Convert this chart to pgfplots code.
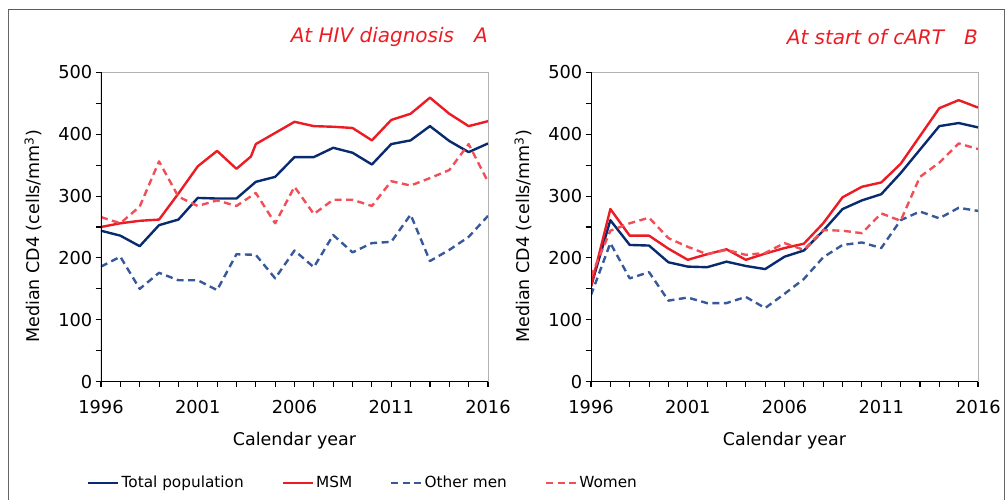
\documentclass[border=0pt]{standalone}
\usepackage{fontspec}
\setmainfont{DejaVu Sans}
\usepackage{pgfplots}
\pgfplotsset{compat=1.18}

\definecolor{totc}{RGB}{8,42,110}
\definecolor{msmc}{RGB}{236,28,36}
\definecolor{omc}{RGB}{55,88,155}
\definecolor{wc}{RGB}{242,78,88}
\definecolor{framered}{RGB}{200,45,55}

\pgfplotsset{
 cd4/.style={
  scale only axis, width=387pt, height=309.4pt,
  xmin=1996, xmax=2016, ymin=0, ymax=500,
  xtick={1996,2001,...,2016}, minor x tick num=4,
  ytick={0,100,...,500}, minor y tick num=1,
  tick pos=left, tick align=outside,
  major tick length=5.5pt, minor tick length=5.5pt,
  every tick/.style={black, line width=1.1pt},
  every minor tick/.style={black, line width=1.1pt},
  axis line style={draw=gray!60, line width=0.8pt},
  /pgf/number format/assume math mode=true,
  /pgf/number format/set thousands separator={},
  ticklabel style={font=\fontsize{17.8}{20}\selectfont},
  xticklabel style={anchor=north, inner sep=0pt, yshift=-13pt},
  yticklabel style={anchor=east, inner sep=0pt, xshift=-3pt},
  xlabel={Calendar year},
  xlabel style={at={(axis description cs:0.5,-0.19)}, anchor=center, font=\fontsize{17.5}{20}\selectfont},
  ylabel={Median CD4 (cells/mm\textsuperscript{3})},
  ylabel style={at={(axis description cs:-0.175,0.47)}, anchor=center, font=\fontsize{17.5}{20}\selectfont},
  title style={at={(axis description cs:1,1.095)}, anchor=east, inner sep=0pt, font=\fontsize{20}{22}\selectfont\itshape, text=msmc},
  tot/.style={totc, line width=2.4pt, line join=round},
  msm/.style={msmc, line width=2.4pt, line join=round},
  om/.style={omc, line width=2.4pt, line join=round, dash pattern=on 7pt off 4.5pt},
  wom/.style={wc, line width=2.4pt, line join=round, dash pattern=on 7pt off 4.5pt},
 }
}

\begin{document}
\begin{tikzpicture}[x=1pt,y=1pt]
\useasboundingbox (0,0) rectangle (1008,500);
\draw[gray!80!black, line width=0.9pt] (8,0) -- (8,490.7);
\draw[gray!80!black, line width=0.9pt] (1004.5,0) -- (1004.5,490.7);
\draw[framered, line width=1.4pt] (7.5,490.7) -- (1005,490.7);

\begin{axis}[cd4, at={(101pt,118.3pt)}, anchor=south west,
  title={At HIV diagnosis\hspace{1.0em}A},
  legend columns=4,
  legend style={at={(axis description cs:-0.036,-0.327)}, anchor=west, draw=none, fill=none, inner sep=0pt,
    font=\fontsize{15.3}{17}\selectfont,
    /tikz/every even column/.append style={column sep=36pt}},
  legend image code/.code={\draw[#1] (0pt,0pt) -- (30pt,0pt);},
]
\addplot[tot] coordinates {(1996,244) (1997,236) (1998,219) (1999,253) (2000,262) (2001,297) (2002,296) (2003,296) (2004,323) (2005,331) (2006,363) (2007,363) (2008,378) (2009,370) (2010,351) (2011,384) (2012,390) (2013,413) (2014,389) (2015,371) (2016,385)};
\addlegendentry{Total population}
\addplot[msm] coordinates {(1996,250) (1997,256) (1998,260) (1999,262) (2000,304) (2001,348) (2002,373) (2003,344) (2003.75,364) (2004,384) (2005,402) (2006,420) (2007,413) (2008,412) (2009,410) (2010,390) (2011,423) (2012,433) (2013,459) (2014,433) (2015,413) (2016,421)};
\addlegendentry{MSM}
\addplot[om] coordinates {(1996,186) (1997,202) (1998,150) (1999,176) (2000,164) (2001,164) (2002,148) (2003,206) (2004,205) (2005,167) (2006,212) (2007,185) (2008,237) (2009,209) (2010,224) (2011,226) (2012,270) (2013,195) (2014,213) (2015,234) (2016,268)};
\addlegendentry{Other men}
\addplot[wom] coordinates {(1996,266) (1997,256) (1998,283) (1999,356) (2000,299) (2001,284) (2002,293) (2003,284) (2004,305) (2005,256) (2006,315) (2007,271) (2008,294) (2009,294) (2010,284) (2011,324) (2012,317) (2013,329) (2014,342) (2015,384) (2016,323)};
\addlegendentry{Women}
\draw[black, line width=1.8pt] (rel axis cs:0,1) -- (rel axis cs:0,0) -- (rel axis cs:1,0);
\end{axis}

\begin{axis}[cd4, at={(591pt,118.3pt)}, anchor=south west,
  title={At start of cART\hspace{1.0em}B},
]
\addplot[tot] coordinates {(1996,154) (1997,261) (1998,221) (1999,220) (2000,193) (2001,186) (2002,185) (2003,194) (2004,187) (2005,182) (2006,202) (2007,212) (2008,244) (2009,279) (2010,293) (2011,303) (2012,337) (2013,375) (2014,413) (2015,418) (2016,411)};
\addplot[msm] coordinates {(1996,154) (1997,279) (1998,236) (1999,236) (2000,215) (2001,197) (2002,206) (2003,214) (2004,197) (2005,207) (2006,216) (2007,223) (2008,256) (2009,298) (2010,315) (2011,322) (2012,352) (2013,397) (2014,442) (2015,455) (2016,443)};
\addplot[om] coordinates {(1996,140) (1997,224) (1998,167) (1999,177) (2000,131) (2001,136) (2002,127) (2003,127) (2004,137) (2005,119) (2006,142) (2007,166) (2008,201) (2009,221) (2010,225) (2011,216) (2012,261) (2013,275) (2014,264) (2015,281) (2016,276)};
\addplot[wom] coordinates {(1996,170) (1997,244) (1998,256) (1999,265) (2000,232) (2001,218) (2002,206) (2003,213) (2004,205) (2005,208) (2006,224) (2007,213) (2008,245) (2009,244) (2010,240) (2011,272) (2012,260) (2013,331) (2014,354) (2015,385) (2016,376)};
\draw[black, line width=1.8pt] (rel axis cs:0,1) -- (rel axis cs:0,0) -- (rel axis cs:1,0);
\end{axis}
\end{tikzpicture}
\end{document}
